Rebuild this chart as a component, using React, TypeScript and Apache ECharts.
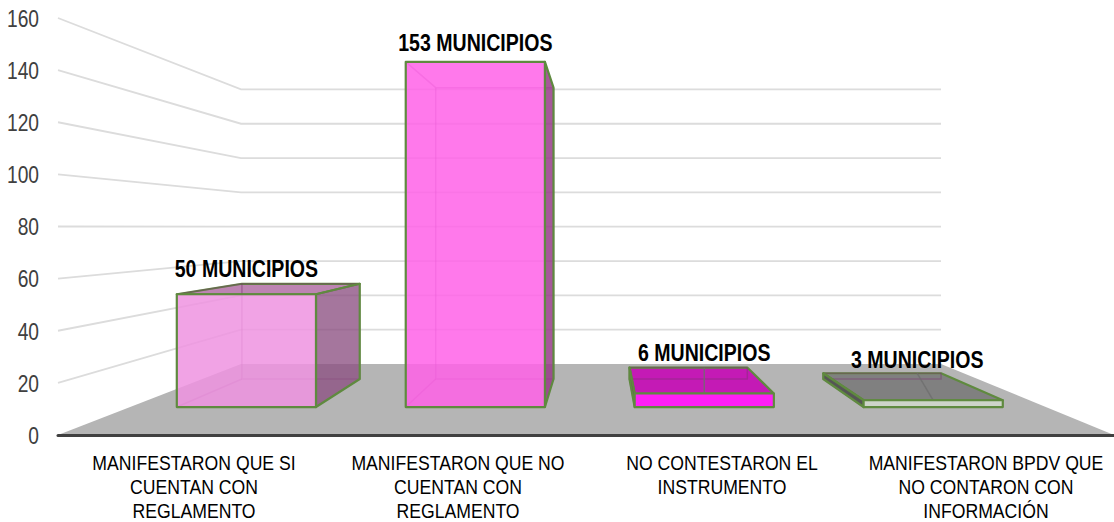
import React, { useEffect, useRef } from "react";
import * as echarts from "echarts";

const categories = [
  "MANIFESTARON QUE SI\nCUENTAN CON\nREGLAMENTO",
  "MANIFESTARON QUE NO\nCUENTAN CON\nREGLAMENTO",
  "NO CONTESTARON EL\nINSTRUMENTO",
  "MANIFESTARON BPDV QUE\nNO CONTARON CON\nINFORMACIÓN",
];
const municipios = [50, 153, 6, 3];
const barLabels = ["50 MUNICIPIOS", "153 MUNICIPIOS", "6 MUNICIPIOS", "3 MUNICIPIOS"];
const ticks = [0, 20, 40, 60, 80, 100, 120, 140, 160];

const frontColors = ["rgba(238,147,225,0.85)", "rgba(255,97,232,0.85)", "#ff1ff5", "#cdd4c9"];
const topColors = ["rgba(178,110,165,0.85)", "rgba(255,97,232,0)", "#c41ab5", "#808080"];
const sideColors = ["rgba(140,80,130,0.78)", "rgba(150,60,135,0.85)", "#7a1a70", "#555555"];
const labelShift = [[0, 0], [0, -4], [0, 0], [-16, 1]];

const EDGE = "#5f8a3f";
const INNER = "rgba(120,50,110,0.4)";
const FONT = "'Liberation Sans', Arial, sans-serif";

// perspective of the box: depth 0 is the axis plane, depth 1 the back wall
const SHRINK_LEFT = 183;
const SHRINK_RIGHT = 173;
const RISE = 71;
const HEIGHT_SHRINK = 0.3415;
const BAR_FRONT = 0.394;
const BAR_BACK = 0.789;
const BAR_RATIO = 0.608;
const BAR_SHIFT = 0.008;

function projector(params: any, api: any) {
  const cs = params.coordSys;
  const y0 = api.coord([0, 0])[1];
  return (x: number, v: number, d: number) => {
    const wy = api.coord([0, v])[1];
    const u = (x - cs.x) / cs.width;
    const l = cs.x + SHRINK_LEFT * d;
    const r = cs.x + cs.width - SHRINK_RIGHT * d;
    return [l + u * (r - l), y0 + (wy - y0) * (1 - HEIGHT_SHRINK * d) - RISE * d];
  };
}

function renderWall(params: any, api: any) {
  const p = projector(params, api);
  const cs = params.coordSys;
  const v = api.value(1);
  const L = cs.x;
  const R = cs.x + cs.width;
  const tickLabel = {
    type: "text",
    x: L - 19,
    y: api.coord([0, v])[1] + 0.5,
    scaleX: 0.8,
    style: {
      x: 0,
      y: 0,
      text: String(v),
      fill: "#404040",
      font: `24px ${FONT}`,
      align: "right",
      verticalAlign: "middle",
    },
  };
  if (v === 0) {
    return {
      type: "group",
      children: [
        {
          type: "polygon",
          shape: { points: [p(L, 0, 0), p(L, 0, 1), p(R, 0, 1), p(R, 0, 0)] },
          style: { fill: "#b5b5b5" },
        },
        tickLabel,
      ],
    };
  }
  return {
    type: "group",
    children: [
      {
        type: "polyline",
        shape: { points: [p(L, v, 0), p(L, v, 1), p(R, v, 1)] },
        style: { stroke: "#dcdcdc", lineWidth: 1.8, fill: "none" },
      },
      tickLabel,
    ],
  };
}

function renderBar(params: any, api: any) {
  const p = projector(params, api);
  const i = api.value(0);
  const v = api.value(1);
  const c = api.coord([i, 0])[0];
  const band = api.size([1, 0])[0];
  const a = c + band * (BAR_SHIFT - BAR_RATIO / 2);
  const b = c + band * (BAR_SHIFT + BAR_RATIO / 2);
  const fbl = p(a, 0, BAR_FRONT), fbr = p(b, 0, BAR_FRONT);
  const ftl = p(a, v, BAR_FRONT), ftr = p(b, v, BAR_FRONT);
  const bbl = p(a, 0, BAR_BACK), bbr = p(b, 0, BAR_BACK);
  const btl = p(a, v, BAR_BACK), btr = p(b, v, BAR_BACK);
  const edge = { stroke: EDGE, lineWidth: 2.2, lineJoin: "round" };
  const inner = { stroke: INNER, lineWidth: 1.5, fill: "none" };
  const children: any[] = [];
  const [sx, sy] = labelShift[params.dataIndex];
  const midX = (ftl[0] + ftr[0]) / 2;
  // top face
  children.push({
    type: "polygon",
    shape: { points: [btl, btr, ftr, ftl] },
    style:
      btl[1] < ftl[1]
        ? { fill: topColors[params.dataIndex], ...edge }
        : { fill: topColors[params.dataIndex], stroke: "none" },
  });
  // hidden edges, seen through the translucent faces
  children.push({ type: "polyline", shape: { points: [btl, bbl, bbr, btr] }, style: inner });
  children.push({ type: "polyline", shape: { points: [bbl, fbl] }, style: inner });
  children.push({ type: "polyline", shape: { points: [btl, ftl] }, style: inner });
  children.push({ type: "polyline", shape: { points: [btl, btr] }, style: inner });
  if (v < 10) {
    children.push({
      type: "polyline",
      shape: { points: [[midX, ftl[1]], [midX + sx, btl[1]]] },
      style: { stroke: "rgba(110,110,110,0.8)", lineWidth: 1.5, fill: "none" },
    });
  }
  // side face
  if (bbr[0] > fbr[0]) {
    children.push({
      type: "polygon",
      shape: { points: [ftr, btr, bbr, fbr] },
      style: { fill: sideColors[params.dataIndex], ...edge },
    });
  }
  if (bbl[0] < fbl[0]) {
    children.push({
      type: "polygon",
      shape: { points: [ftl, btl, bbl, fbl] },
      style: { fill: sideColors[params.dataIndex], ...edge },
    });
  }
  // front face
  children.push({
    type: "polygon",
    shape: { points: [ftl, ftr, fbr, fbl] },
    style: { fill: frontColors[params.dataIndex], ...edge },
  });
  children.push({
    type: "text",
    x: midX + sx,
    y: Math.min(ftl[1], btl[1]) - 14 + sy,
    scaleX: 0.85,
    style: {
      x: 0,
      y: 0,
      text: barLabels[params.dataIndex],
      fill: "#000000",
      font: `bold 23px ${FONT}`,
      align: "center",
      verticalAlign: "middle",
    },
  });
  // category label under the axis
  children.push({
    type: "text",
    x: c + 4,
    y: api.coord([0, 0])[1] + 15,
    scaleX: 0.84,
    style: {
      x: 0,
      y: 0,
      text: categories[params.dataIndex],
      fill: "#000000",
      font: `21px ${FONT}`,
      lineHeight: 24,
      align: "center",
      verticalAlign: "top",
    },
  });
  return { type: "group", children };
}

export default function App() {
  const ref = useRef<HTMLDivElement>(null);
  useEffect(() => {
    const chart = echarts.init(ref.current!, undefined, { renderer: "svg" });
    chart.setOption({
      animation: false,
      backgroundColor: "#ffffff",
      grid: { left: 58, right: 0, top: 18, bottom: 87, outerBoundsMode: "none" },
      xAxis: {
        type: "category",
        data: categories,
        z: 5,
        axisLine: { show: true, onZero: false, lineStyle: { color: "#404040", width: 3 } },
        axisTick: { show: false },
        axisLabel: { show: false },
      },
      yAxis: {
        type: "value",
        min: 0,
        max: 160,
        interval: 20,
        axisLine: { show: false },
        axisTick: { show: false },
        splitLine: { show: false },
        axisLabel: { show: false },
      },
      series: [
        {
          type: "custom",
          name: "pared",
          silent: true,
          clip: false,
          z: 1,
          renderItem: renderWall,
          encode: { x: 0, y: 1 },
          data: ticks.map((t) => [0, t]),
        },
        {
          type: "custom",
          name: "municipios",
          silent: true,
          clip: false,
          z: 3,
          renderItem: renderBar,
          encode: { x: 0, y: 1 },
          data: municipios.map((m, i) => [i, m]),
        },
      ],
    });
    return () => chart.dispose();
  }, []);
  return (
    <div
      ref={ref}
      style={{ position: "absolute", left: 0, top: 0, width: 1114, height: 522 }}
    />
  );
}
